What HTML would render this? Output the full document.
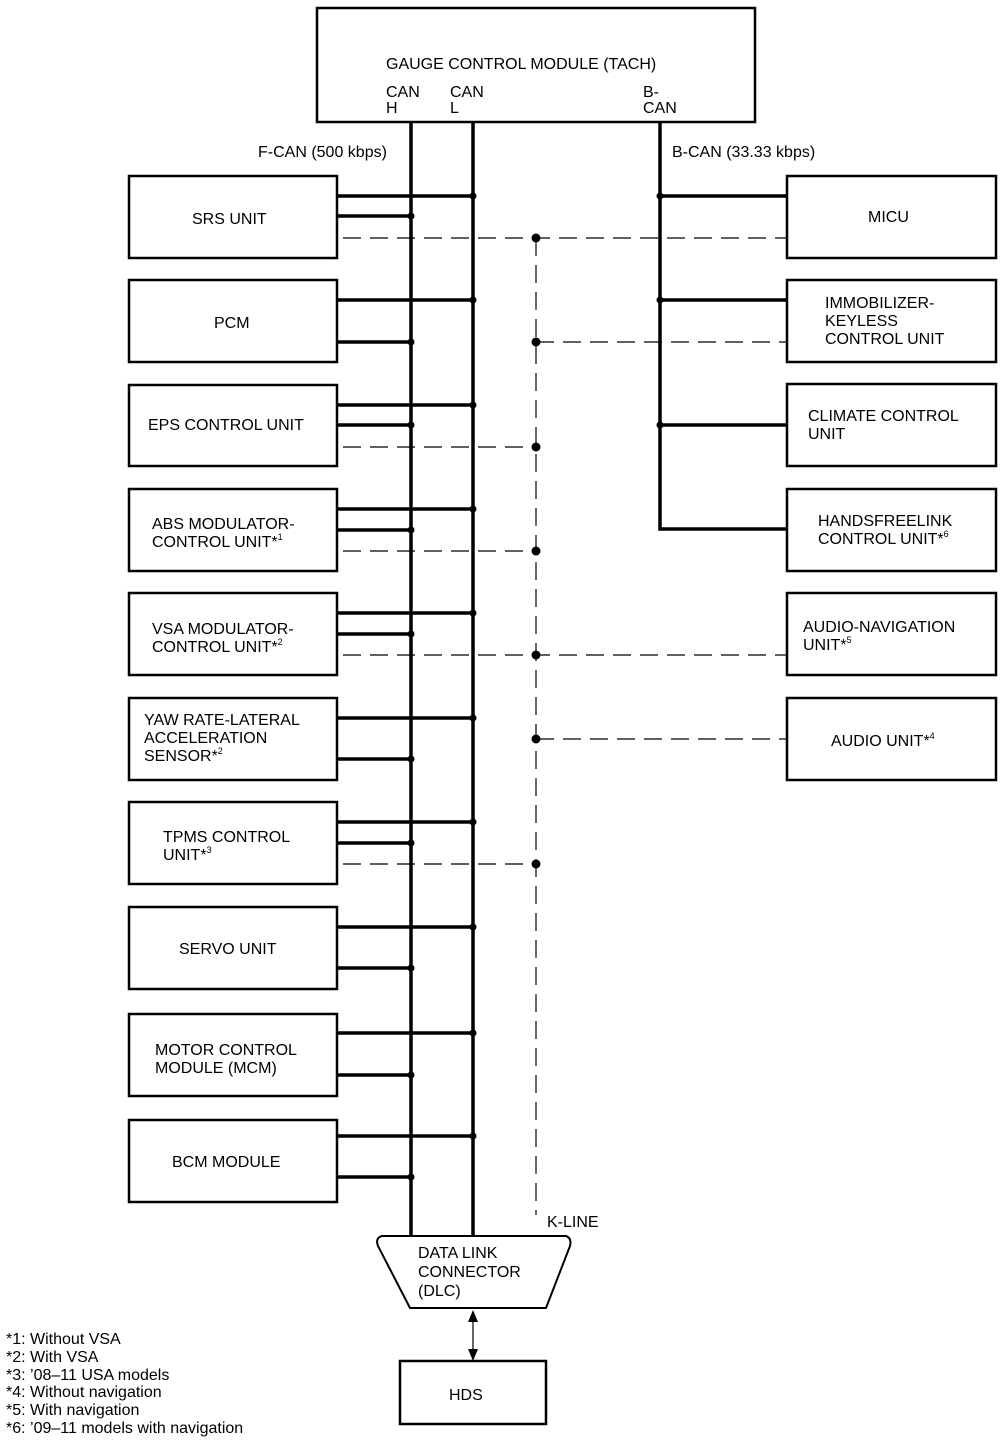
<!DOCTYPE html>
<html><head><meta charset="utf-8"><style>
html,body{margin:0;padding:0;background:#fff}
svg text{font-family:"Liberation Sans",Arial,sans-serif;font-size:16px;fill:#000}
.s{font-size:9px}
</style></head><body>
<svg width="1008" height="1444" viewBox="0 0 1008 1444" xmlns="http://www.w3.org/2000/svg">
<g fill="none" stroke="#000" stroke-width="2.5">
<rect x="317" y="8" width="438" height="114"/>
<rect x="129" y="176" width="208" height="82"/>
<rect x="129" y="280" width="208" height="82"/>
<rect x="129" y="385" width="208" height="81"/>
<rect x="129" y="489" width="208" height="82"/>
<rect x="129" y="593" width="208" height="82"/>
<rect x="129" y="698" width="208" height="82"/>
<rect x="129" y="802" width="208" height="82"/>
<rect x="129" y="907" width="208" height="82"/>
<rect x="129" y="1014" width="208" height="82"/>
<rect x="129" y="1120" width="208" height="82"/>
<rect x="787" y="176" width="209" height="82"/>
<rect x="787" y="280" width="209" height="82"/>
<rect x="787" y="384" width="209" height="82"/>
<rect x="787" y="489" width="209" height="82"/>
<rect x="787" y="593" width="209" height="82"/>
<rect x="787" y="698" width="209" height="82"/>
<rect x="400" y="1361" width="146" height="63"/>
<path d="M382 1236 L566 1236 Q572 1238 570 1246 L546 1308 L410 1308 L378 1246 Q375 1238 382 1236 Z" stroke-width="2"/>
</g>
<g stroke="#000" stroke-width="3.5" fill="none">
<line x1="411" y1="122" x2="411" y2="1236"/>
<line x1="473" y1="122" x2="473" y2="1236"/>
<path d="M660 122 L660 529 L787 529"/>
<line x1="660" y1="196" x2="787" y2="196"/>
<line x1="660" y1="300" x2="787" y2="300"/>
<line x1="660" y1="425" x2="787" y2="425"/>
<line x1="337" y1="196" x2="473" y2="196"/><line x1="337" y1="216" x2="411" y2="216"/>
<line x1="337" y1="300" x2="473" y2="300"/><line x1="337" y1="342" x2="411" y2="342"/>
<line x1="337" y1="405" x2="473" y2="405"/><line x1="337" y1="425" x2="411" y2="425"/>
<line x1="337" y1="509" x2="473" y2="509"/><line x1="337" y1="530" x2="411" y2="530"/>
<line x1="337" y1="613" x2="473" y2="613"/><line x1="337" y1="634" x2="411" y2="634"/>
<line x1="337" y1="718" x2="473" y2="718"/><line x1="337" y1="759" x2="411" y2="759"/>
<line x1="337" y1="822" x2="473" y2="822"/><line x1="337" y1="843" x2="411" y2="843"/>
<line x1="337" y1="927" x2="473" y2="927"/><line x1="337" y1="968" x2="411" y2="968"/>
<line x1="337" y1="1033" x2="473" y2="1033"/><line x1="337" y1="1075" x2="411" y2="1075"/>
<line x1="337" y1="1136" x2="473" y2="1136"/><line x1="337" y1="1177" x2="411" y2="1177"/>
</g>
<g stroke="#000" stroke-width="1.2" fill="none" stroke-dasharray="18,9">
<line x1="343" y1="238" x2="787" y2="238"/>
<line x1="536" y1="342" x2="787" y2="342"/>
<line x1="343" y1="447" x2="536" y2="447"/>
<line x1="343" y1="551" x2="536" y2="551"/>
<line x1="343" y1="655" x2="787" y2="655"/>
<line x1="536" y1="739" x2="787" y2="739"/>
<line x1="343" y1="864" x2="536" y2="864"/>
<line x1="536" y1="238" x2="536" y2="1215"/>
</g>
<line x1="473" y1="1318" x2="473" y2="1352" stroke="#000" stroke-width="1.2"/>
<path d="M468 1322 L473 1310 L478 1322 Z M468 1349 L473 1361 L478 1349 Z" fill="#000"/>
<g fill="#000">
<circle cx="473" cy="196" r="3.5"/><circle cx="411" cy="216" r="3.5"/>
<circle cx="473" cy="300" r="3.5"/><circle cx="411" cy="342" r="3.5"/>
<circle cx="473" cy="405" r="3.5"/><circle cx="411" cy="425" r="3.5"/>
<circle cx="473" cy="509" r="3.5"/><circle cx="411" cy="530" r="3.5"/>
<circle cx="473" cy="613" r="3.5"/><circle cx="411" cy="634" r="3.5"/>
<circle cx="473" cy="718" r="3.5"/><circle cx="411" cy="759" r="3.5"/>
<circle cx="473" cy="822" r="3.5"/><circle cx="411" cy="843" r="3.5"/>
<circle cx="473" cy="927" r="3.5"/><circle cx="411" cy="968" r="3.5"/>
<circle cx="473" cy="1033" r="3.5"/><circle cx="411" cy="1075" r="3.5"/>
<circle cx="473" cy="1136" r="3.5"/><circle cx="411" cy="1177" r="3.5"/>
<circle cx="660" cy="196" r="3.5"/><circle cx="660" cy="300" r="3.5"/><circle cx="660" cy="425" r="3.5"/>
<circle cx="536" cy="238" r="4.5"/><circle cx="536" cy="342" r="4.5"/><circle cx="536" cy="447" r="4.5"/>
<circle cx="536" cy="551" r="4.5"/><circle cx="536" cy="655" r="4.5"/><circle cx="536" cy="739" r="4.5"/>
<circle cx="536" cy="864" r="4.5"/>
</g>
<text x="386" y="69">GAUGE CONTROL MODULE (TACH)</text>
<text x="386" y="97">CAN</text><text x="386" y="113">H</text>
<text x="450" y="97">CAN</text><text x="450" y="113">L</text>
<text x="643" y="97">B-</text><text x="643" y="113">CAN</text>
<text x="258" y="157">F-CAN (500 kbps)</text>
<text x="672" y="157">B-CAN (33.33 kbps)</text>
<text x="192" y="224">SRS UNIT</text>
<text x="214" y="328">PCM</text>
<text x="148" y="430">EPS CONTROL UNIT</text>
<text x="152" y="529">ABS MODULATOR-</text><text x="152" y="547">CONTROL UNIT*<tspan class="s" dy="-7">1</tspan></text>
<text x="152" y="634">VSA MODULATOR-</text><text x="152" y="652">CONTROL UNIT*<tspan class="s" dy="-7">2</tspan></text>
<text x="144" y="725">YAW RATE-LATERAL</text><text x="144" y="743">ACCELERATION</text><text x="144" y="761">SENSOR*<tspan class="s" dy="-7">2</tspan></text>
<text x="163" y="842">TPMS CONTROL</text><text x="163" y="860">UNIT*<tspan class="s" dy="-7">3</tspan></text>
<text x="179" y="954">SERVO UNIT</text>
<text x="155" y="1055">MOTOR CONTROL</text><text x="155" y="1073">MODULE (MCM)</text>
<text x="172" y="1167">BCM MODULE</text>
<text x="868" y="222">MICU</text>
<text x="825" y="308">IMMOBILIZER-</text><text x="825" y="326">KEYLESS</text><text x="825" y="344">CONTROL UNIT</text>
<text x="808" y="421">CLIMATE CONTROL</text><text x="808" y="439">UNIT</text>
<text x="818" y="526">HANDSFREELINK</text><text x="818" y="544">CONTROL UNIT*<tspan class="s" dy="-7">6</tspan></text>
<text x="803" y="632">AUDIO-NAVIGATION</text><text x="803" y="650">UNIT*<tspan class="s" dy="-7">5</tspan></text>
<text x="831" y="746">AUDIO UNIT*<tspan class="s" dy="-7">4</tspan></text>
<text x="547" y="1227">K-LINE</text>
<text x="418" y="1258">DATA LINK</text><text x="418" y="1277">CONNECTOR</text><text x="418" y="1296">(DLC)</text>
<text x="449" y="1400">HDS</text>
<text x="6" y="1344">*1: Without VSA</text>
<text x="6" y="1362">*2: With VSA</text>
<text x="6" y="1380">*3: ’08–11 USA models</text>
<text x="6" y="1397">*4: Without navigation</text>
<text x="6" y="1415">*5: With navigation</text>
<text x="6" y="1433">*6: ’09–11 models with navigation</text>
</svg>
</body></html>
